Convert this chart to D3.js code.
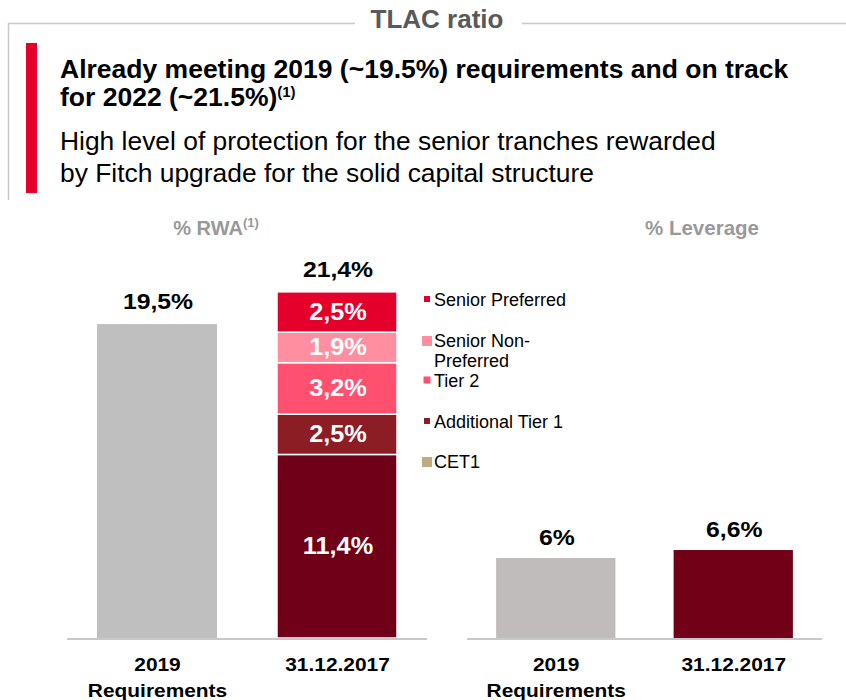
<!DOCTYPE html>
<html><head><meta charset="utf-8">
<script src="https://cdn.jsdelivr.net/npm/d3@7"></script>
<style>body{margin:0;background:#fff}svg{display:block;font-family:"Liberation Sans",Arial,sans-serif}</style>
</head><body><svg id="c" width="846" height="700"></svg>
<script>
const categories = ["2019\nRequirements", "31.12.2017"];
const rwaRequirement = 19.5;
const rwaSeries = ["CET1", "Additional Tier 1", "Tier 2", "Senior Non-Preferred", "Senior Preferred"];
const rwaValues = [11.4, 2.5, 3.2, 1.9, 2.5];
const rwaSegmentLabels = ["11,4%", "2,5%", "3,2%", "1,9%", "2,5%"];
const rwaTotalLabels = ["19,5%", "21,4%"];
const leverageValues = [6.0, 6.6];
const leverageLabels = ["6%", "6,6%"];
const legendItems = ["Senior Preferred", "Senior Non-\nPreferred", "Tier 2", "Additional Tier 1", "CET1"];

const segColors = {"CET1":"#700018","Additional Tier 1":"#8C1D25","Tier 2":"#FF5070","Senior Non-Preferred":"#FF8FA0","Senior Preferred":"#E4002B"};
const legendColors = ["#E4002B","#FF8FA0","#FF5070","#8C1D25","#BEAB7E"];
const legendSizes = [6,10,7,6,10];

const svg = d3.select("#c");
const SX = 1.1; // horizontal stretch of chart labels

function label(x, y, txt, size, fill, lines){
  const t = svg.append("text").attr("transform",`translate(${x},${y}) scale(${SX},1)`)
    .attr("text-anchor","middle").attr("font-size",size).attr("font-weight","bold").attr("fill",fill);
  txt.split("\n").forEach((line,j)=>t.append("tspan").attr("x",0).attr("dy",j?(lines||26):0).text(line));
  return t;
}

// Frame & header
svg.append("line").attr("x1",8).attr("x2",355).attr("y1",23.5).attr("y2",23.5).attr("stroke","#c8c8c8").attr("stroke-width",1.5);
svg.append("line").attr("x1",522).attr("x2",846).attr("y1",23.5).attr("y2",23.5).attr("stroke","#c8c8c8").attr("stroke-width",1.5);
svg.append("line").attr("x1",8.5).attr("x2",8.5).attr("y1",23).attr("y2",200).attr("stroke","#c8c8c8").attr("stroke-width",1.5);
svg.append("text").attr("x",437).attr("y",28).attr("text-anchor","middle").attr("font-size",26).attr("font-weight","bold").attr("fill","#595959").text("TLAC ratio");
svg.append("rect").attr("x",26).attr("y",43).attr("width",11).attr("height",150).attr("fill","#E4002B");

const h1 = svg.append("text").attr("x",60).attr("y",78).attr("font-size",26.5).attr("font-weight","bold").attr("fill","#000");
h1.append("tspan").text("Already meeting 2019 (~19.5%) requirements and on track");
const h2 = svg.append("text").attr("x",60).attr("y",106).attr("font-size",26.5).attr("font-weight","bold").attr("fill","#000");
h2.append("tspan").text("for 2022 (~21.5%)");
h2.append("tspan").attr("font-size",15).attr("dy",-9).text("(1)");
svg.append("text").attr("x",60).attr("y",150).attr("font-size",26.4).attr("fill","#000").text("High level of protection for the senior tranches rewarded");
svg.append("text").attr("x",60).attr("y",182).attr("font-size",26.4).attr("fill","#000").text("by Fitch upgrade for the solid capital structure");

// Left chart: % RWA
const baseY = 638;
const xL = d3.scaleBand().domain(categories).range([67,427]).paddingInner(0.3333).paddingOuter(0.1667);
const yL = d3.scaleLinear().domain([0,22]).range([baseY, baseY-22*16.1]);

const sub1 = svg.append("text").attr("x",216).attr("y",235).attr("text-anchor","middle").attr("font-size",20).attr("font-weight","bold").attr("fill","#999");
sub1.append("tspan").text("% RWA");
sub1.append("tspan").attr("font-size",13).attr("dy",-8).text("(1)");

svg.append("rect").attr("x",xL(categories[0])).attr("width",xL.bandwidth())
  .attr("y",yL(rwaRequirement)).attr("height",yL(0)-yL(rwaRequirement)).attr("fill","#BFBFBF");

const stackData = [Object.fromEntries(rwaSeries.map((s,i)=>[s,rwaValues[i]]))];
const stacked = d3.stack().keys(rwaSeries)(stackData);
stacked.forEach((layer,i)=>{
  const d = layer[0];
  svg.append("rect").attr("x",xL(categories[1])).attr("width",xL.bandwidth())
    .attr("y",yL(d[1])).attr("height",yL(d[0])-yL(d[1]))
    .attr("fill",segColors[layer.key]).attr("stroke","#fff").attr("stroke-width",1.5);
  label(xL(categories[1])+xL.bandwidth()/2+1, (yL(d[0])+yL(d[1]))/2+8, rwaSegmentLabels[i], 23, "#fff");
});
const rwaTotal = d3.sum(rwaValues);
[rwaRequirement, rwaTotal].forEach((v,i)=>{
  label(xL(categories[i])+xL.bandwidth()/2+1, yL(v)-15, rwaTotalLabels[i], 22.5, "#000");
});
svg.append("line").attr("x1",67).attr("x2",427).attr("y1",baseY+1).attr("y2",baseY+1).attr("stroke","#c8c8c8").attr("stroke-width",2);

// Legend
const legY = [299,341,380,421,462];
const legTextY = [306,347,387,428,468];
legendItems.forEach((t,i)=>{
  const s = legendSizes[i];
  svg.append("rect").attr("x",427-s/2).attr("y",legY[i]-s/2).attr("width",s).attr("height",s).attr("fill",legendColors[i]);
  const tx = svg.append("text").attr("x",434).attr("y",legTextY[i]).attr("font-size",18).attr("fill","#000");
  t.split("\n").forEach((line,j)=>tx.append("tspan").attr("x",434).attr("dy",j?20:0).text(line));
});

// Right chart: % Leverage
const xR = d3.scaleBand().domain(categories).range([467,822]).paddingInner(0.328).paddingOuter(0.164);
const yR = d3.scaleLinear().domain([0,6.6]).range([baseY, baseY-6.6*13.33]);
svg.append("text").attr("x",702).attr("y",235).attr("text-anchor","middle").attr("font-size",20.5).attr("font-weight","bold").attr("fill","#999").text("% Leverage");
const levColors = ["#C0BCBB","#720017"];
leverageValues.forEach((v,i)=>{
  svg.append("rect").attr("x",xR(categories[i])).attr("width",xR.bandwidth())
    .attr("y",yR(v)).attr("height",yR(0)-yR(v)).attr("fill",levColors[i]);
  label(xR(categories[i])+xR.bandwidth()/2+1, yR(v)-13, leverageLabels[i], 22.5, "#000");
});
svg.append("line").attr("x1",467).attr("x2",822).attr("y1",baseY+1).attr("y2",baseY+1).attr("stroke","#c8c8c8").attr("stroke-width",2);

// Category labels
[xL, xR].forEach(sc=>{
  categories.forEach(c=>{
    label(sc(c)+sc.bandwidth()/2+0.5, 671, c, 19, "#000", 26);
  });
});
</script></body></html>
